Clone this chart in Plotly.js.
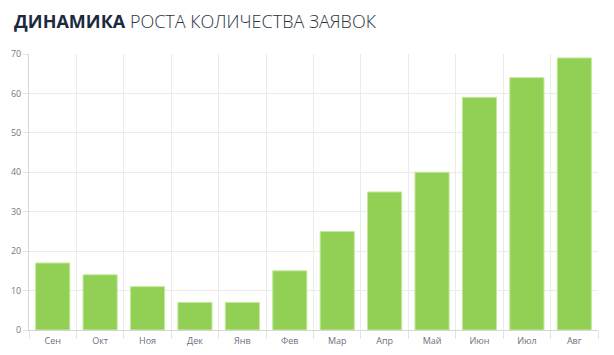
<!DOCTYPE html>
<html><head><meta charset="utf-8">
<script src="https://cdn.plot.ly/plotly-3.0.1.min.js"></script>
<style>html,body{margin:0;padding:0;background:#fff}#c{width:614px;height:355px}</style>
</head><body><div id="c"></div>
<script>
const months = ["Сен","Окт","Ноя","Дек","Янв","Фев","Мар","Апр","Май","Июн","Июл","Авг"];
const requests = [17,14,11,7,7,15,25,35,40,59,64,69];
const yTicks = [0,10,20,30,40,50,60,70];

Plotly.newPlot("c", [{
  type: "bar",
  x: months,
  y: requests,
  marker: {color: "#92cf55", line: {color: "#c4e99c", width: 1}},
  hoverinfo: "x+y"
}], {
  width: 614, height: 355,
  margin: {l: 29, r: 16, t: 54, b: 25},
  paper_bgcolor: "#fff", plot_bgcolor: "#fff",
  bargap: 0.28,
  showlegend: false,
  title: {
    text: "<b>ДИНАМИКА</b> <span style=\"font-weight:300;fill:#2a3442\">РОСТА КОЛИЧЕСТВА ЗАЯВОК</span>",
    x: 0.023, xref: "container", xanchor: "left",
    y: 0.94, yref: "container", yanchor: "middle",
    font: {family: "Open Sans, sans-serif", size: 18, color: "#1b2a3d"}
  },
  xaxis: {
    type: "category",
    tickson: "boundaries",
    showgrid: true, gridcolor: "#ebebeb", gridwidth: 1,
    ticks: "outside", ticklen: 8, tickcolor: "#e3e3e3",
    ticklabelstandoff: 2,
    showline: true, linecolor: "#d6d6d6", linewidth: 1,
    tickfont: {family: "Open Sans, sans-serif", size: 9, color: "#6a7080"},
    fixedrange: true
  },
  yaxis: {
    range: [0, 70],
    tickvals: yTicks,
    showgrid: true, gridcolor: "#ebebeb", gridwidth: 1,
    zeroline: false,
    ticks: "outside", ticklen: 5, tickcolor: "#e3e3e3",
    showline: true, linecolor: "#d6d6d6", linewidth: 1,
    tickfont: {family: "Open Sans, sans-serif", size: 9, color: "#777"},
    fixedrange: true
  }
}, {displayModeBar: false, staticPlot: true});
</script></body></html>
